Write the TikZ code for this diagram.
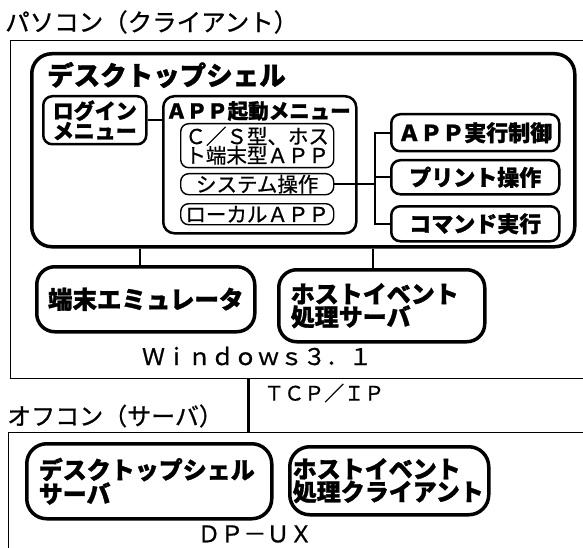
\documentclass[tikz,border=0pt]{standalone}
\usepackage{fontspec}
\setmainfont{Noto Sans CJK JP}[BoldFeatures={FakeBold=1.2}]
\newfontfamily\jpmed[FakeBold=0.8]{Noto Sans CJK JP}
\newcommand\jsz[2]{\fontsize{#1}{#2}\selectfont}
\begin{document}
\begin{tikzpicture}[x=1pt, y=-1pt,
  thinframe/.style={draw, line width=1.3pt, inner sep=0pt, anchor=north west},
  shellbox/.style={draw, line width=3.5pt, rounded corners=20pt, inner sep=0pt, anchor=north west},
  mbox/.style={draw, line width=2.5pt, rounded corners=9pt, inner sep=0pt, anchor=north west, font=\bfseries\jsz{22pt}{22pt}},
  sbox/.style={draw, line width=1.4pt, rounded corners=8pt, inner sep=0pt, anchor=north west, font=\jpmed\jsz{20.5pt}{19pt}},
  bbox/.style={draw, line width=3.5pt, rounded corners=18pt, inner sep=0pt, anchor=north west, font=\bfseries\jsz{24pt}{21pt}},
  conn/.style={line width=2pt},
  plain/.style={inner sep=0pt}]
\useasboundingbox (0,0) rectangle (583,548);

% frames
\node[thinframe, minimum width=600pt, minimum height=338pt] (client) at (10,40) {};
\node[thinframe, minimum width=600pt, minimum height=150pt] (server) at (8,432) {};
\node[plain, anchor=west, font=\jpmed\jsz{24.5pt}{24pt}] (ttl) at (5,22) {パソコン（クライアント）};

% desktop shell
\node[shellbox, minimum width=543pt, minimum height=193pt] (shell) at (30,52) {};
\node[plain, anchor=west, font=\bfseries\jsz{26.5pt}{26pt}] (shellttl) at (47,75) {デスクトップシェル};

\node[mbox, minimum width=103pt, minimum height=48pt, align=left, font=\bfseries\jsz{21pt}{20pt}] (login) at (42,95) {ログイン\\メニュー};

\node[mbox, rounded corners=11pt, minimum width=193pt, minimum height=137pt] (appmenu) at (162,95) {};
\node[plain, anchor=west, font=\bfseries\jsz{20.5pt}{20.5pt}] (appttl) at (166,111) {ＡＰＰ起動メニュー};
\node[sbox, minimum width=153pt, minimum height=44pt, align=left] (cs) at (180,123) {Ｃ／Ｓ型、ホス\\ト端末型ＡＰＰ};
\node[sbox, minimum width=153pt, minimum height=21pt] (sys) at (180,173) {システム操作};
\node[sbox, minimum width=153pt, minimum height=21pt] (local) at (180,203) {ローカルＡＰＰ};

\node[mbox, minimum width=168pt, minimum height=37pt] (exec) at (390,113) {ＡＰＰ実行制御};
\node[mbox, minimum width=168pt, minimum height=34pt] (print) at (390,159) {プリント操作};
\node[mbox, minimum width=168pt, minimum height=35pt] (cmd) at (390,205) {コマンド実行};

\coordinate (bus) at (375,0);
\draw[conn] (login.east) -- (login.east -| appmenu.west);
\draw[conn] (sys.east) -- (sys.east -| bus);
\draw[conn] (exec.west) -| (bus |- cmd.west) -- (cmd.west);
\draw[conn] (print.west) -- (print.west -| bus);

% lower client row
\node[bbox, minimum width=218pt, minimum height=65pt, font=\bfseries\jsz{24.5pt}{24pt}] (term) at (35,265) {端末エミュレータ};
\node[bbox, minimum height=72pt, inner xsep=12pt, text width=182pt, align=left] (hostsrv) at (277,268) {ホストイベント\\処理サーバ};
\coordinate (d1) at (140,0);
\coordinate (d2) at (373,0);
\draw[conn, line width=2.5pt] (shell.south -| d1) -- (term.north -| d1);
\draw[conn, line width=2.5pt] (shell.south -| d2) -- (hostsrv.north -| d2);
\node[plain, font=\jpmed\jsz{23pt}{23pt}] (win) at (257,356) {Ｗｉｎｄｏｗｓ３．１};

% network
\coordinate (t) at (248,0);
\draw[line width=3pt] (client.south -| t) -- (server.north -| t);
\node[plain, anchor=west, font=\jpmed\jsz{20pt}{20pt}] (tcp) at (264,393) {ＴＣＰ／ＩＰ};
\node[plain, anchor=west, font=\jpmed\jsz{24pt}{24pt}] (offcon) at (7,416) {オフコン（サーバ）};

% server
\node[bbox, rounded corners=20pt, minimum height=75pt, inner xsep=12pt, text width=221pt, align=left] (dss) at (25,442) {デスクトップシェル\\サーバ};
\node[bbox, rounded corners=20pt, minimum height=68pt, inner xsep=3pt, text width=193pt, align=left] (hec) at (288,445) {ホストイベント\\処理クライアント};
\node[plain, font=\jpmed\jsz{23pt}{23pt}] (dpux) at (255,534) {ＤＰ－ＵＸ};
\end{tikzpicture}
\end{document}
